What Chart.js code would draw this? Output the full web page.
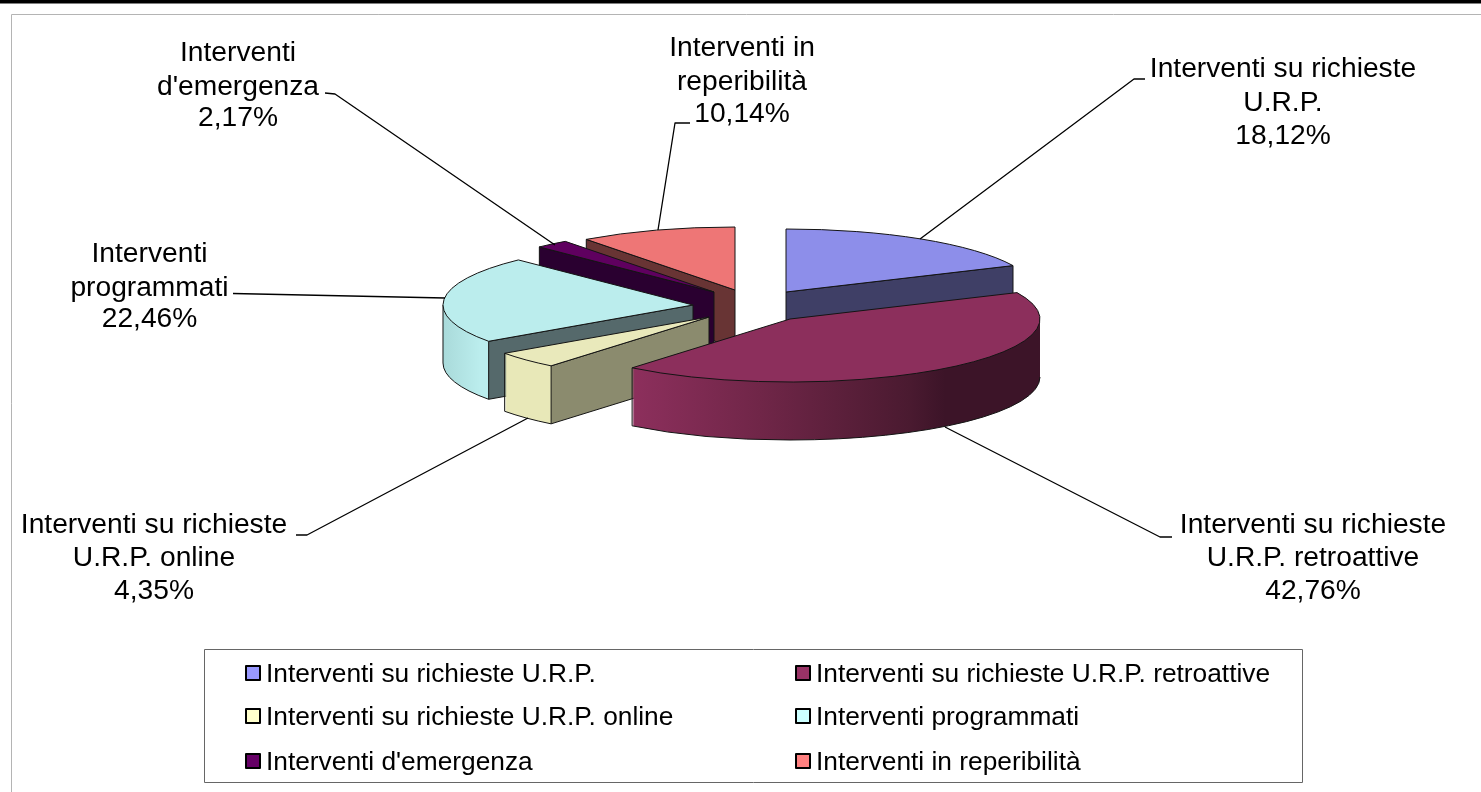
<!DOCTYPE html>
<html><head><meta charset="utf-8">
<style>html,body{margin:0;padding:0;background:#fff;overflow:hidden}canvas{display:block}</style>
<script src="https://cdn.jsdelivr.net/npm/chart.js@4/dist/chart.umd.js"></script>
</head><body><canvas id="c" width="1481" height="792"></canvas>
<script>
// ---- data ----
const categories = ["Interventi su richieste U.R.P.","Interventi su richieste U.R.P. retroattive","Interventi su richieste U.R.P. online","Interventi programmati","Interventi d'emergenza","Interventi in reperibilità"];
const values = [18.12, 42.76, 4.35, 22.46, 2.17, 10.14];
const labelLines = [["Interventi su richieste","U.R.P."],["Interventi su richieste","U.R.P. retroattive"],["Interventi su richieste","U.R.P. online"],["Interventi","programmati"],["Interventi","d'emergenza"],["Interventi in","reperibilità"]];
// ---- style ----
const topColors = ["#8d8eea","#8c2f5c","#e9e9bb","#bbeded","#5f005f","#ee7676"];
const legendColors = ["#9999ff","#993366","#ffffcc","#ccffff","#660066","#ff8080"];
const sideColors = ["#3f3f66","#5a1f3c","#8b8b6e","#55696b","#2a0030","#683434"];
const LABEL_FONT = '28.2px "Liberation Sans", Arial, sans-serif';
const LEGEND_FONT = '26.3px "Liberation Sans", Arial, sans-serif';
const SQUASH = 63/250, DEPTH = 58, R = 250;
const apex = [[786,292],[790,319],[709,317],[693,305],[714,292],[735,290]]; // exploded slice origins
const paintOrder = [5,4,0,3,2,1];
const wallStops = {
  1:[[636,"#8c2f5c"],[760,"#702648"],[910,"#4a1a30"],[945,"#3c1428"],[1040,"#3c1428"]],
  2:[[500,"#e8e8b8"],[560,"#e8e8b8"]],
  3:[[443,"#a9dada"],[480,"#bbeded"],[500,"#bbeded"]]
};
const labelBoxes = [
 {x:1283,y:[69,103,136],line:[[920,239],[1134,79],[1145,79]]},
 {x:1313,y:[525,558,591],line:[[945,427],[1160,537],[1172,537]]},
 {x:154,y:[525,558,591],line:[[528,418],[307,535],[296,535]]},
 {x:149.5,y:[254,288,319],line:[[445,298],[233,293.5]]},
 {x:238,y:[53,87,118],line:[[555,245],[335,94],[325,93]]},
 {x:742,y:[48,82,114],line:[[658,230],[675,123],[690,123]]}
];
const legendBox = {x:204.5,y:649.5,w:1098,h:133,cols:[245,795],rows:[673,716,761],textDy:1.5};

const pie3d = {
  id:'pie3d',
  beforeDatasetsDraw(chart){
    const ctx = chart.ctx, arcs = chart.getDatasetMeta(0).data;
    paintOrder.forEach(i=>{
      const arc = arcs[i], [ax,ay] = apex[i];
      const opts = arc.options;
      const a = arc.startAngle, b = arc.endAngle, ux = Math.cos, uy = Math.sin;
      const put = (dy)=>{ ctx.setTransform(1,0,0,SQUASH,ax-arc.x,ay+dy-arc.y*SQUASH); };
      // outer wall: the slice repeated downward
      const stops = wallStops[i];
      let wall = sideColors[i];
      if(stops){
        const g = ctx.createLinearGradient(stops[0][0]-ax+arc.x,0,stops[stops.length-1][0]-ax+arc.x,0);
        const span = stops[stops.length-1][0]-stops[0][0];
        stops.forEach(s=>g.addColorStop((s[0]-stops[0][0])/span,s[1]));
        wall = g;
      }
      const wallOpts = Object.create(opts); wallOpts.backgroundColor = wall; wallOpts.borderWidth = 0;
      arc.options = wallOpts;
      for(let d=DEPTH;d>=1;d--){ ctx.save(); put(d); arc.draw(ctx); ctx.restore(); }
      ctx.setTransform(1,0,0,1,0,0);
      ctx.lineWidth = 1; ctx.strokeStyle = '#141414'; ctx.lineJoin='round';
      // outer wall outline
      const t0 = Math.max(a,0), t1 = Math.min(b,Math.PI);
      if(t1>t0){
        ctx.beginPath();
        ctx.ellipse(ax,ay+DEPTH,R,R*SQUASH,0,t0,t1);
        ctx.lineTo(ax+R*ux(t1),ay+R*SQUASH*uy(t1));
        ctx.stroke();
      }
      // radial side faces that look at the viewer
      const face = (t)=>{
        const px = ax+R*ux(t), py = ay+R*SQUASH*uy(t);
        ctx.beginPath(); ctx.moveTo(ax,ay); ctx.lineTo(px,py); ctx.lineTo(px,py+DEPTH); ctx.lineTo(ax,ay+DEPTH); ctx.closePath();
        ctx.fillStyle = sideColors[i]; ctx.fill(); ctx.stroke();
      };
      if(ux(a)<-1e-6) face(a);
      if(ux(b)>1e-6) face(b);
      // top face
      const topOpts = Object.create(opts); topOpts.backgroundColor = topColors[i]; topOpts.borderWidth = 0;
      arc.options = topOpts;
      ctx.save(); put(0); arc.draw(ctx); ctx.restore();
      arc.options = opts;
      ctx.setTransform(1,0,0,1,0,0);
      ctx.beginPath(); ctx.moveTo(ax,ay); ctx.ellipse(ax,ay,R,R*SQUASH,0,a,b); ctx.closePath(); ctx.stroke();
    });
    return false;
  },
  afterDraw(chart){
    const ctx = chart.ctx;
    ctx.setTransform(1,0,0,1,0,0);
    // page bar and chart frame
    ctx.fillStyle='#000'; ctx.fillRect(0,0,1481,3.5);
    ctx.strokeStyle='#b4b4b4'; ctx.lineWidth=1;
    ctx.beginPath(); ctx.moveTo(11.5,792); ctx.lineTo(11.5,14.5); ctx.lineTo(1481,14.5); ctx.stroke();
    // leaders + labels
    ctx.font = LABEL_FONT; ctx.fillStyle='#000'; ctx.textBaseline='middle'; ctx.textAlign='center';
    ctx.strokeStyle='#000'; ctx.lineWidth=1.3;
    labelBoxes.forEach((l,i)=>{
      ctx.beginPath(); l.line.forEach((p,j)=> j?ctx.lineTo(p[0],p[1]):ctx.moveTo(p[0],p[1])); ctx.stroke();
      const lines = labelLines[i].concat(values[i].toFixed(2).replace('.',',')+'%');
      lines.forEach((t,j)=>ctx.fillText(t,l.x,l.y[j]));
    });
    // legend
    const L = legendBox;
    ctx.strokeStyle='#666'; ctx.lineWidth=1; ctx.strokeRect(L.x,L.y,L.w,L.h);
    ctx.textAlign='left'; ctx.font = LEGEND_FONT;
    chart.data.labels.forEach((t,i)=>{
      const x=L.cols[i%2], y=L.rows[Math.floor(i/2)];
      ctx.fillStyle=legendColors[i]; ctx.fillRect(x+1,y-7,14,14);
      ctx.strokeStyle='#000'; ctx.lineWidth=2; ctx.strokeRect(x+1,y-7,14,14);
      ctx.fillStyle='#000'; ctx.fillText(t,x+21,y+L.textDy);
    });
  }
};
new Chart(document.getElementById('c'),{
  type:'pie',
  data:{labels:categories,datasets:[{data:values,backgroundColor:topColors,borderWidth:0,radius:R}]},
  options:{responsive:false,animation:false,devicePixelRatio:1,rotation:0,
    layout:{padding:0},
    plugins:{legend:{display:false},tooltip:{enabled:false}}},
  plugins:[pie3d]
});
</script></body></html>
